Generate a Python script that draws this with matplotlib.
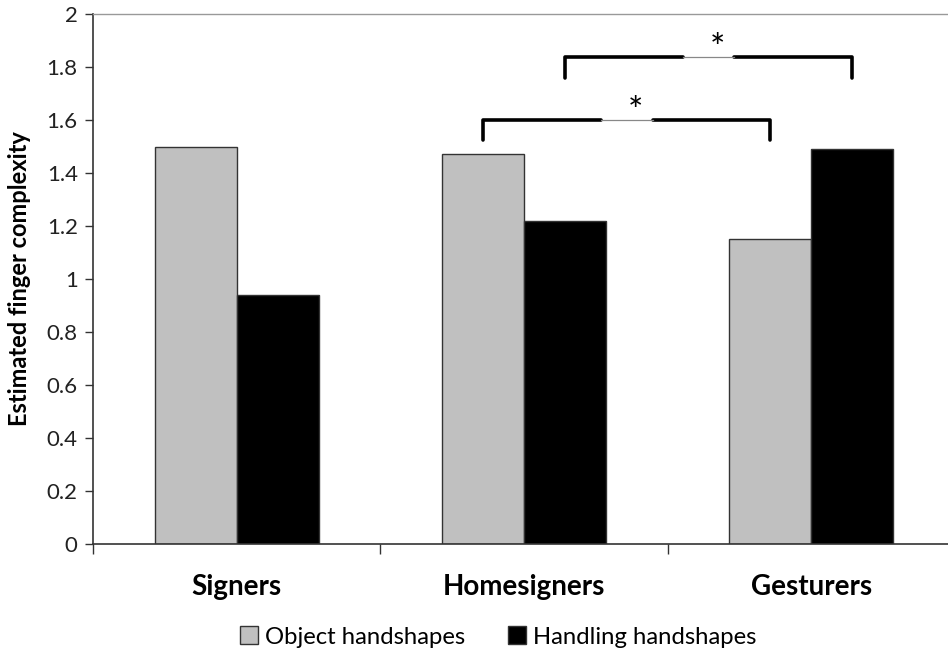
import matplotlib
matplotlib.use("Agg")
import matplotlib.pyplot as plt
import numpy as np
from matplotlib.patches import Patch

plt.rcParams['font.family'] = ['Lato', 'DejaVu Sans']

categories = ["Signers", "Homesigners", "Gesturers"]
object_vals = [1.50, 1.47, 1.15]
handling_vals = [0.94, 1.22, 1.49]
series_names = ["Object handshapes", "Handling handshapes"]
yticks = [0, 0.2, 0.4, 0.6, 0.8, 1.0, 1.2, 1.4, 1.6, 1.8, 2.0]
ytick_labels = ["0", "0.2", "0.4", "0.6", "0.8", "1", "1.2", "1.4", "1.6", "1.8", "2"]

# significance brackets: (bar group index, series index) endpoints, y level, drop
brackets = [
    {"from": (1, 0), "to": (2, 0), "y": 1.60, "drop": 0.075, "label": "*"},
    {"from": (1, 1), "to": (2, 1), "y": 1.84, "drop": 0.08, "label": "*"},
]

fig = plt.figure(figsize=(9.48, 6.61), dpi=100)
ax = fig.add_axes([93/948, (661-543.6)/661, 862/948, 529.4/661])

x = np.arange(len(categories))
w = 0.285
offsets = [-w/2, w/2]
ax.bar(x + offsets[0], object_vals, w, color="#c0c0c0", edgecolor="#333333", linewidth=1.0, zorder=2)
ax.bar(x + offsets[1], handling_vals, w, color="#000000", edgecolor="#333333", linewidth=1.0, zorder=2)

ax.set_xlim(-0.5, 2.5)
ax.set_ylim(0, 2)
ax.set_yticks(yticks)
ax.set_yticklabels(ytick_labels, fontsize=16, color="#222222")
ax.tick_params(axis='y', direction='out', length=6, width=1, color="#333333", pad=5)

ax.set_xticks(x)
ax.set_xticklabels(categories, fontsize=20, fontweight='bold')
ax.tick_params(axis='x', which='major', length=0, pad=22)
ax.set_xticks([-0.5, 0.5, 1.5, 2.5], minor=True)
ax.tick_params(axis='x', which='minor', direction='out', length=7, width=1, color="#333333")

ax.set_ylabel("Estimated finger complexity", fontsize=17, fontweight='bold', labelpad=11)

for s in ["left", "bottom"]:
    ax.spines[s].set_color("#333333")
    ax.spines[s].set_linewidth(1.2)
ax.spines["top"].set_color("#999999")
ax.spines["top"].set_linewidth(1.0)
ax.spines["right"].set_visible(False)

for b in brackets:
    x0 = b["from"][0] + offsets[b["from"][1]]
    x1 = b["to"][0] + offsets[b["to"][1]]
    y = b["y"]
    mid = (x0 + x1) / 2
    gap = 0.09
    ax.plot([x0, x0, mid - gap], [y - b["drop"], y, y], color="black", lw=2.6,
            solid_capstyle='round', solid_joinstyle='round', zorder=3)
    ax.plot([mid + gap, x1, x1], [y, y, y - b["drop"]], color="black", lw=2.6,
            solid_capstyle='round', solid_joinstyle='round', zorder=3)
    ax.plot([mid - gap, mid + gap], [y, y], color="#888888", lw=0.9, zorder=3)
    ax.text(mid + 0.03, y - 0.035, b["label"], ha='center', va='bottom', fontsize=26, zorder=4)

handles = [Patch(facecolor="#c0c0c0", edgecolor="#333333", linewidth=1.0),
           Patch(facecolor="#000000", edgecolor="#333333", linewidth=1.0)]
fig.legend(handles, series_names, loc='center', bbox_to_anchor=(498/948, 1 - 637/661),
           ncol=2, frameon=False, fontsize=17.2, handlelength=0.75, handleheight=0.75,
           handletextpad=0.3, columnspacing=1.8)

fig.savefig("out.png", dpi=100)
